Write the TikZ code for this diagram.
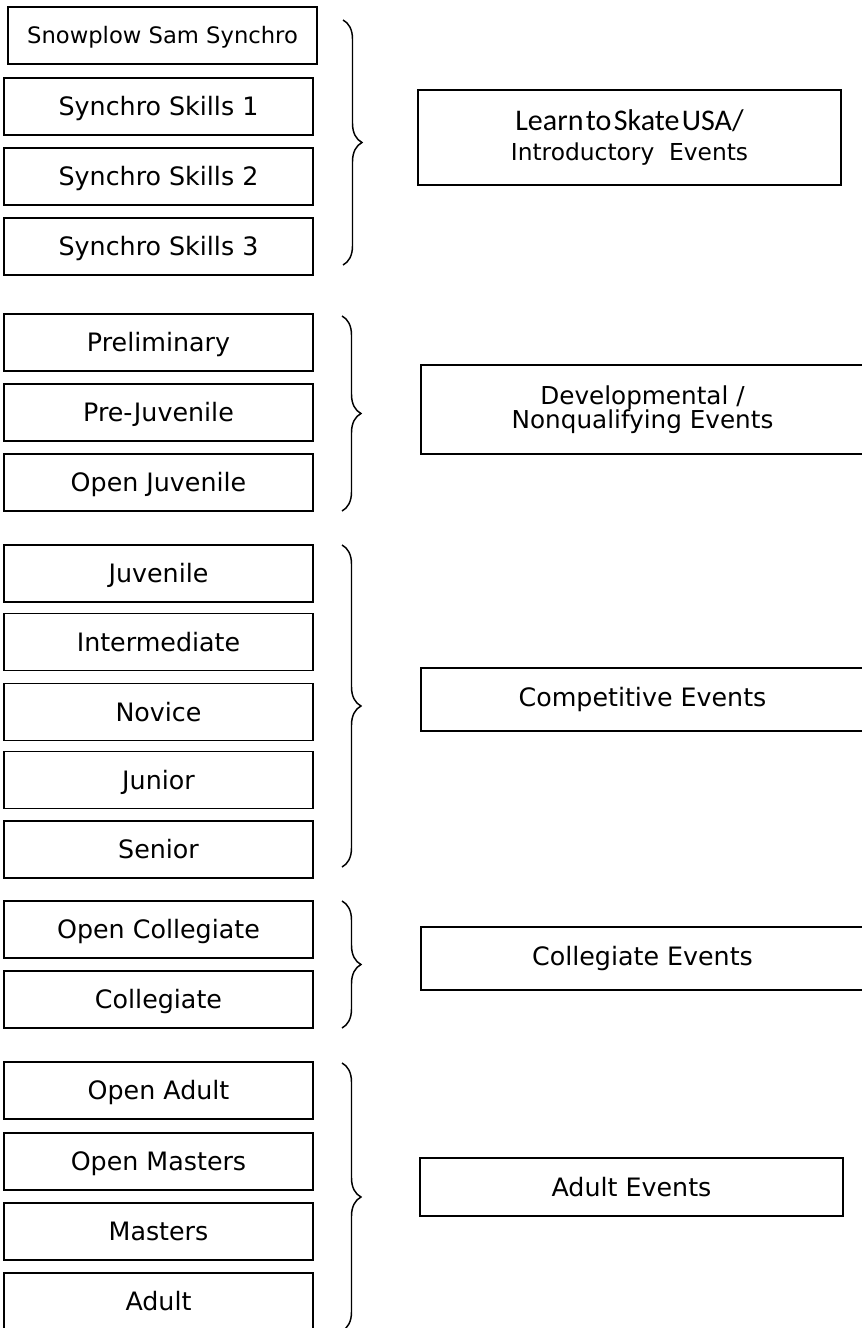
\documentclass[tikz,border=0pt]{standalone}
\usepackage{fontspec}
\setmainfont{DejaVu Sans}
\newfontfamily\ltsfont[WordSpace=0.35]{Carlito}
\usetikzlibrary{decorations.pathreplacing}

\begin{document}
\begin{tikzpicture}[x=0.75pt,y=-0.75pt,
    lvl/.style={draw, line width=1pt, minimum width=231.75pt, minimum height=42.75pt,
      inner sep=0pt, text height=13.9pt, text depth=0pt, font=\fontsize{19}{23}\selectfont},
    grp/.style={draw, line width=1pt, inner sep=0pt, align=center, font=\fontsize{19}{23}\selectfont},
    brc/.style={decorate, decoration={brace, amplitude=14.25pt}, line width=1.1pt}]
    \useasboundingbox (0,0) rectangle (861,1328);
    % levels
    \node[lvl, text height=12.4pt, font=\fontsize{17}{20}\selectfont] (snow) at (162.5, 35.5) {Snowplow Sam Synchro};
    \node[lvl] (ss1) at (158.5, 106.5) {Synchro Skills 1};
    \node[lvl] (ss2) at (158.5, 176.5) {Synchro Skills 2};
    \node[lvl] (ss3) at (158.5, 246.5) {Synchro Skills 3};
    \node[lvl] (prel) at (158.5, 342.5) {Preliminary};
    \node[lvl] (prej) at (158.5, 412.5) {Pre-Juvenile};
    \node[lvl] (opju) at (158.5, 482.5) {Open Juvenile};
    \node[lvl] (juv) at (158.5, 573.5) {Juvenile};
    \node[lvl] (inter) at (158.5, 642) {Intermediate};
    \node[lvl] (nov) at (158.5, 712) {Novice};
    \node[lvl] (jun) at (158.5, 780) {Junior};
    \node[lvl] (sen) at (158.5, 849.5) {Senior};
    \node[lvl] (opcol) at (158.5, 929.5) {Open Collegiate};
    \node[lvl] (col) at (158.5, 999.5) {Collegiate};
    \node[lvl] (opad) at (158.5, 1090.5) {Open Adult};
    \node[lvl] (opma) at (158.5, 1161.5) {Open Masters};
    \node[lvl] (mas) at (158.5, 1231.5) {Masters};
    \node[lvl] (adu) at (158.5, 1301.5) {Adult};
    % groups
    \node[grp, minimum width=317.25pt, minimum height=71.25pt] (lts) at (629.5, 137.5)
      {{\ltsfont\fontsize{22.5}{22}\selectfont Learn to Skate USA/}\\[0pt]
       {\fontsize{17.5}{21}\selectfont Introductory\ \ Events}};
    \node[grp, minimum width=332.25pt, minimum height=66.75pt,
      font=\fontsize{18.5}{18}\selectfont] (dev) at (642.5, 409.5)
      {Developmental /\\Nonqualifying Events};
    \node[grp, minimum width=332.25pt, minimum height=47.25pt] (comp) at (642.5, 699.5) {Competitive Events};
    \node[grp, minimum width=332.25pt, minimum height=47.25pt] (coll) at (642.5, 958.5) {Collegiate Events};
    \node[grp, minimum width=317.25pt, minimum height=43.5pt] (adev) at (631.5, 1187) {Adult Events};
    % braces
    \coordinate (b1t) at (343, 20);   \coordinate (b1b) at (343, 265);
    \coordinate (b2t) at (342, 316);  \coordinate (b2b) at (342, 511);
    \coordinate (b3t) at (342, 545);  \coordinate (b3b) at (342, 867);
    \coordinate (b4t) at (342, 901);  \coordinate (b4b) at (342, 1028);
    \coordinate (b5t) at (342, 1063); \coordinate (b5b) at (342, 1331);
    \draw[brc] (b1t) -- (b1b);
    \draw[brc] (b2t) -- (b2b);
    \draw[brc] (b3t) -- (b3b);
    \draw[brc] (b4t) -- (b4b);
    \draw[brc] (b5t) -- (b5b);
\end{tikzpicture}
\end{document}
